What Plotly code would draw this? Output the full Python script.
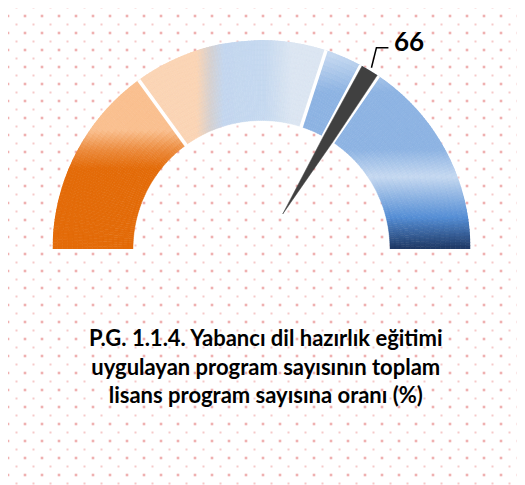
import numpy as np
import plotly.graph_objects as go

# gauge data (0-100 scale)
band_edges = [0, 30, 60, 100]
gauge_value = 66
value_label = "66"
title_lines = [
    "P.G. 1.1.4. Yabancı dil hazırlık eğitimi",
    "uygulayan program sayısının toplam",
    "lisans program sayısına oranı (%)",
]

# page geometry (window px); the page body has an 8px margin
W, H = 525, 485
OFF = 8
FW, FH = W - OFF, H - OFF
CX, CY = 261.5, 249
R_OUT, R_IN = 209, 128.5
TIP_R = 41
NEEDLE_W = 2.7
DEG = 1.8  # degrees per unit of the 0-100 scale

# gradient fills of the bands: (axis the gradient runs along, stops in px)
band_styles = [
    ("y", [(130, "#fac090"), (150, "#ec8b3d"), (168, "#e46c0a")]),
    ("x", [(197, "#fbd5b5"), (211, "#d5d1d2"), (224, "#c4d7ef"), (265, "#c6d9f0"), (292, "#dce6f2")]),
    ("y", [(55, "#c6d9f1"), (92, "#8eb4e3"), (150, "#8eb4e3"), (177, "#c6d9f1"),
           (197, "#8eb4e3"), (218, "#558ed5"), (249, "#1f3864")]),
]


def hex_rgb(h):
    return [int(h[i:i + 2], 16) for i in (1, 3, 5)]


def grad(stops, p):
    pos = [s[0] for s in stops]
    cols = np.array([hex_rgb(s[1]) for s in stops])
    rgb = [np.interp(p, pos, cols[:, k]) for k in range(3)]
    return "rgb(%d,%d,%d)" % tuple(int(round(c)) for c in rgb)


def to_px(r, v):
    a = np.radians(v * DEG)
    return CX - r * np.cos(a), CY - r * np.sin(a)


fig = go.Figure()

# dotted page background
xa = np.arange(16.5, W, 17)
ya = np.arange(7.5, H, 17)
xb = np.arange(8, W, 17)
yb = np.arange(16, H, 17)
gx, gy = np.meshgrid(xa, ya)
fig.add_trace(go.Scatter(x=gx.ravel(), y=gy.ravel(), mode="markers",
                         marker=dict(symbol="square", size=2, color="#f5c9c9"),
                         hoverinfo="skip"))
gx, gy = np.meshgrid(xb, yb)
fig.add_trace(go.Scatter(x=gx.ravel(), y=gy.ravel(), mode="markers",
                         marker=dict(symbol="square", size=2.6, color="#efb0b0"),
                         hoverinfo="skip"))

# gauge bands, split in small cells to carry the gradients
step = 0.5
n_r = 16
dr = (R_OUT - R_IN) / n_r
for i, (axis, stops) in enumerate(band_styles):
    lo, hi = band_edges[i], band_edges[i + 1]
    vs = np.arange(lo + step / 2, hi, step)
    th, base, cols = [], [], []
    for v in vs:
        for k in range(n_r):
            r0 = R_IN + k * dr
            px, py = to_px(r0 + dr / 2, v)
            th.append(v * DEG)
            base.append(r0)
            cols.append(grad(stops, px if axis == "x" else py))
    fig.add_trace(go.Barpolar(
        theta=th, base=base, r=[dr + 0.3] * len(th), width=[step * DEG + 0.08] * len(th),
        marker=dict(color=cols, line=dict(width=0.4, color=cols)),
        hoverinfo="skip"))

# white separators between bands
sep_r, sep_t = [], []
for e in band_edges[1:-1]:
    sep_r += [R_IN - 1, R_OUT + 1, None]
    sep_t += [e * DEG, e * DEG, None]
fig.add_trace(go.Scatterpolar(r=sep_r, theta=sep_t, mode="lines",
                              line=dict(color="white", width=3.5), hoverinfo="skip"))

# needle
n0, n1 = gauge_value, gauge_value + NEEDLE_W
nc = (n0 + n1) / 2
fig.add_trace(go.Barpolar(theta=[nc * DEG], base=[R_IN - 1], r=[R_OUT - R_IN + 2],
                          width=[(NEEDLE_W + 1.0) * DEG],
                          marker=dict(color="white", line=dict(width=0)), hoverinfo="skip"))
fig.add_trace(go.Scatterpolar(
    r=[TIP_R, R_IN, R_OUT, R_OUT, R_IN, TIP_R],
    theta=[nc * DEG, n0 * DEG, n0 * DEG, n1 * DEG, n1 * DEG, nc * DEG],
    mode="lines", fill="toself", fillcolor="#404040",
    line=dict(color="#404040", width=0.5), hoverinfo="skip"))

# leader line to the value label
sx, sy = to_px(R_OUT + 3, nc)
fig.add_trace(go.Scatter(x=[sx, sx + 5, sx + 17], y=[sy, sy - 20, sy - 20], mode="lines",
                         line=dict(color="black", width=1.5), hoverinfo="skip"))

fig.add_annotation(x=sx + 21, y=sy - 27, xref="x", yref="y", text="<b>%s</b>" % value_label,
                   showarrow=False, xanchor="left", yanchor="middle",
                   font=dict(family="Lato", size=26, color="black"))

fig.add_annotation(x=266, y=366, xref="x", yref="y", text="<b>" + "<br>".join(title_lines) + "</b>",
                   showarrow=False, xanchor="center", yanchor="middle", align="center",
                   font=dict(family="Lato", size=22, color="black"))

fig.update_layout(
    width=FW, height=FH, margin=dict(l=0, r=0, t=0, b=0),
    paper_bgcolor="white", plot_bgcolor="white", showlegend=False,
    xaxis=dict(range=[OFF, W], visible=False, fixedrange=True),
    yaxis=dict(range=[H, OFF], visible=False, fixedrange=True),
    polar=dict(
        domain=dict(x=[(CX - R_OUT - OFF) / FW, (CX + R_OUT - OFF) / FW],
                    y=[(H - CY) / FH, (H - CY + R_OUT) / FH]),
        sector=[0, 180], bgcolor="rgba(0,0,0,0)", barmode="overlay",
        radialaxis=dict(range=[0, R_OUT], visible=False),
        angularaxis=dict(rotation=180, direction="clockwise", visible=False),
    ),
)

fig.write_html("out.html")
